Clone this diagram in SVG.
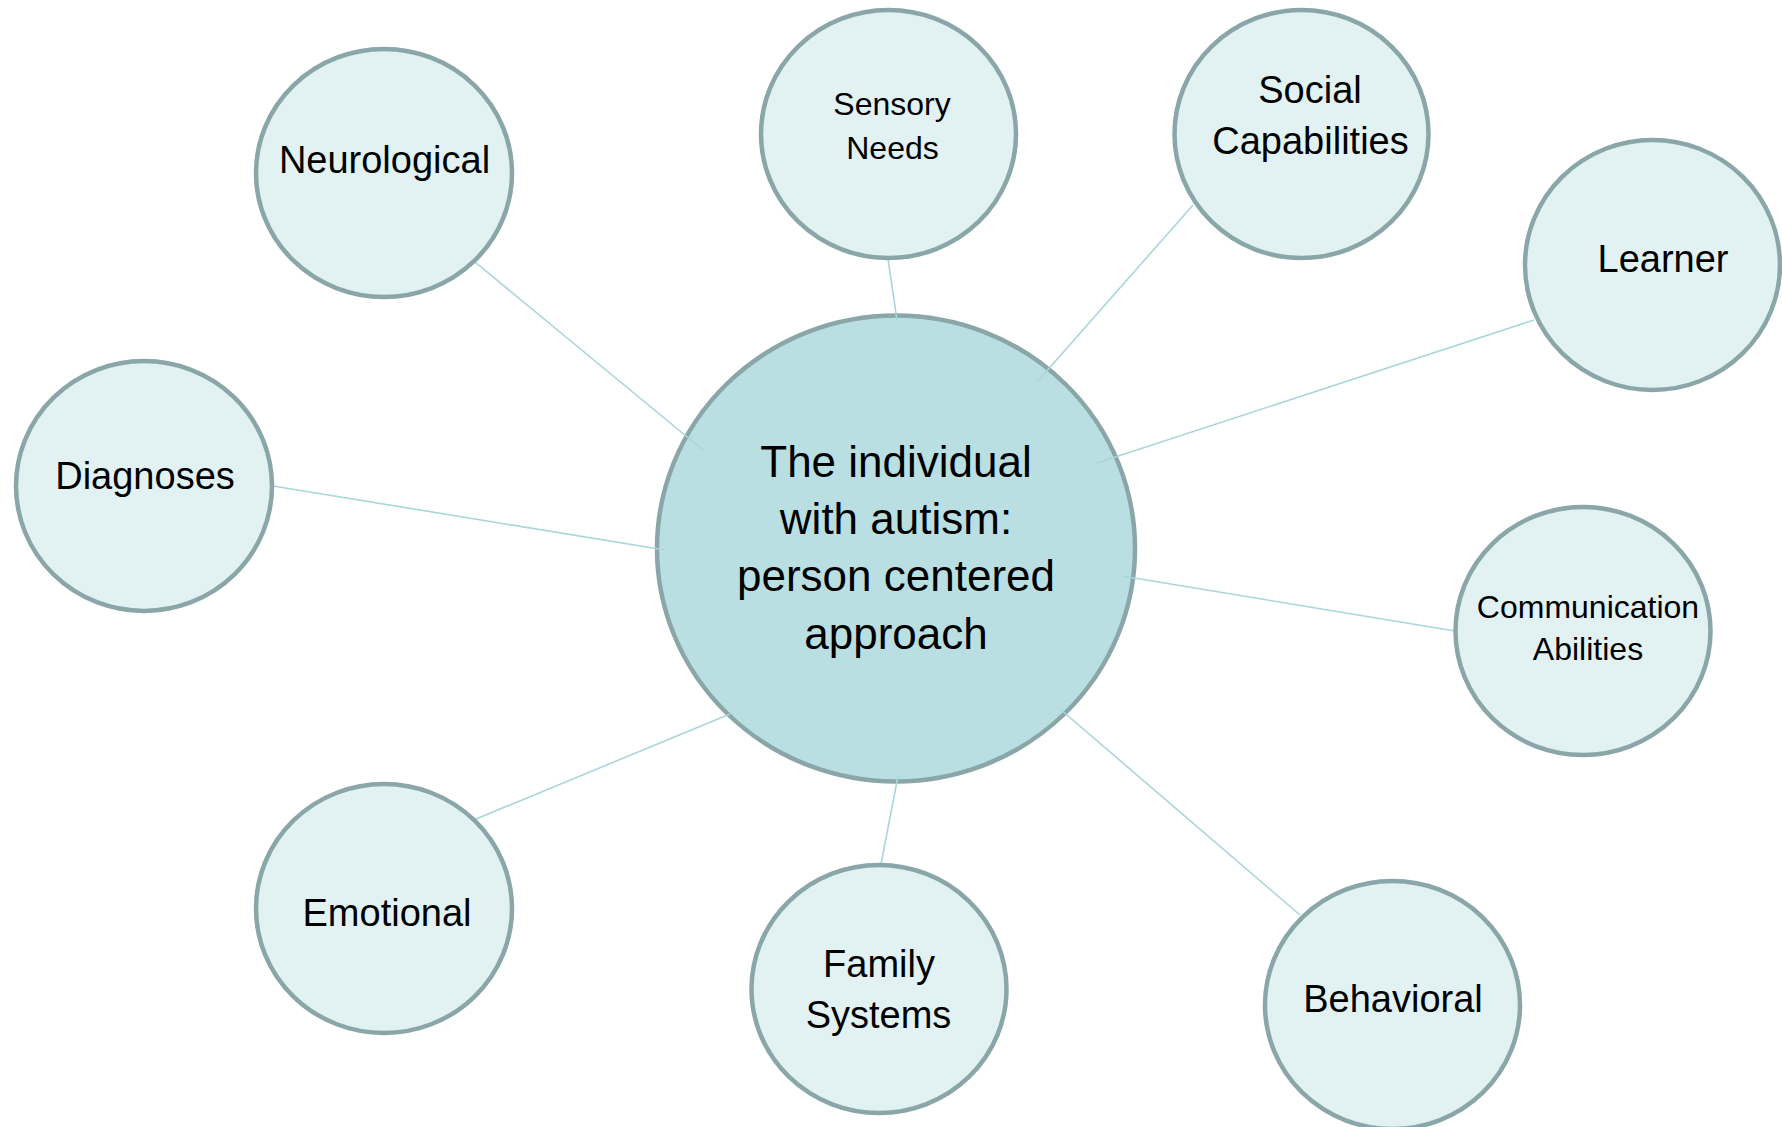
<svg xmlns="http://www.w3.org/2000/svg" width="1782" height="1127" viewBox="0 0 1782 1127">
  <style>
    .hub { fill: #b9dfe2; stroke: #8aa6a9; stroke-width: 4.5; }
    .node { fill: #e2f2f3; stroke: #8aa6a9; stroke-width: 4.5; }
    .link { stroke: #a9d6da; stroke-width: 1.6; fill: none; }
    text { font-family: "Liberation Sans", Arial, sans-serif; fill: #000; text-anchor: middle; }
    .big { font-size: 38px; }
    .small { font-size: 32px; }
    .hubtext { font-size: 44px; }
  </style>
  <rect width="1782" height="1127" fill="#ffffff"/>

  <!-- central node -->
  <g id="node-center">
    <ellipse class="hub" cx="896" cy="548.5" rx="239" ry="233"/>
    <text class="hubtext" x="896" y="477">The individual</text>
    <text class="hubtext" x="896" y="534">with autism:</text>
    <text class="hubtext" x="896" y="591">person centered</text>
    <text class="hubtext" x="896" y="649">approach</text>
  </g>

  <!-- spokes from the outer nodes to the centre -->
  <g id="connectors">
    <line class="link" x1="475" y1="262" x2="703" y2="450"/>
    <line class="link" x1="888" y1="259" x2="897" y2="320"/>
    <line class="link" x1="1193" y1="205" x2="1037" y2="382"/>
    <line class="link" x1="1534" y1="320" x2="1097" y2="463"/>
    <line class="link" x1="1455" y1="631" x2="1122" y2="576"/>
    <line class="link" x1="1300" y1="915" x2="1060" y2="709"/>
    <line class="link" x1="881" y1="864" x2="898" y2="776"/>
    <line class="link" x1="476" y1="819" x2="730" y2="714"/>
    <line class="link" x1="273" y1="486" x2="665" y2="550"/>
  </g>

  <g id="node-neurological">
    <ellipse class="node" cx="384" cy="173" rx="128" ry="124"/>
    <text class="big" x="384.5" y="173">Neurological</text>
  </g>

  <g id="node-sensory">
    <ellipse class="node" cx="888.5" cy="134" rx="127.5" ry="124"/>
    <text class="small" x="892" y="115">Sensory</text>
    <text class="small" x="892.5" y="159">Needs</text>
  </g>

  <g id="node-social">
    <ellipse class="node" cx="1301.5" cy="134" rx="127" ry="124"/>
    <text class="big" x="1310" y="103">Social</text>
    <text class="big" x="1310.5" y="154">Capabilities</text>
  </g>

  <g id="node-learner">
    <ellipse class="node" cx="1652.5" cy="265" rx="127.5" ry="125"/>
    <text class="big" x="1663" y="272">Learner</text>
  </g>

  <g id="node-diagnoses">
    <ellipse class="node" cx="144" cy="486" rx="128" ry="125"/>
    <text class="big" x="145" y="489">Diagnoses</text>
  </g>

  <g id="node-communication">
    <ellipse class="node" cx="1583" cy="631" rx="127.5" ry="124"/>
    <text class="small" x="1588" y="618">Communication</text>
    <text class="small" x="1588" y="660">Abilities</text>
  </g>

  <g id="node-emotional">
    <ellipse class="node" cx="384" cy="908.5" rx="128" ry="124.5"/>
    <text class="big" x="387" y="926">Emotional</text>
  </g>

  <g id="node-family">
    <ellipse class="node" cx="879" cy="989" rx="127.5" ry="124"/>
    <text class="big" x="879" y="977">Family</text>
    <text class="big" x="878.5" y="1028">Systems</text>
  </g>

  <g id="node-behavioral">
    <ellipse class="node" cx="1392.5" cy="1005" rx="127.5" ry="124"/>
    <text class="big" x="1393" y="1012">Behavioral</text>
  </g>
</svg>
